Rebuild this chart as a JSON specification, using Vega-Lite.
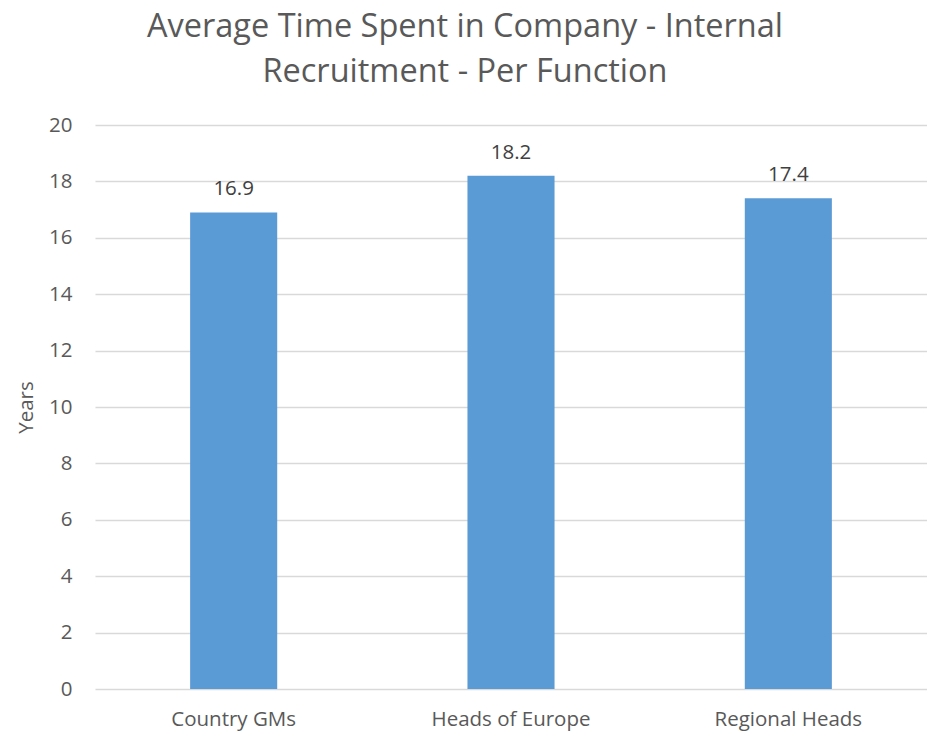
{
  "$schema": "https://vega.github.io/schema/vega-lite/v6.json",
  "width": 832,
  "height": 564,
  "autosize": {"type": "none"},
  "padding": {"left": 95, "top": 125, "right": 0, "bottom": 44},
  "background": "white",
  "title": {
    "text": ["Average Time Spent in Company - Internal", "Recruitment - Per Function"],
    "anchor": "middle",
    "dx": -46,
    "offset": 27,
    "font": "Open Sans",
    "fontSize": 32.5,
    "fontWeight": "normal",
    "color": "#595959",
    "lineHeight": 45
  },
  "data": {
    "values": [
      {"function": "Country GMs", "years": 16.9},
      {"function": "Heads of Europe", "years": 18.2},
      {"function": "Regional Heads", "years": 17.4}
    ]
  },
  "config": {
    "view": {"stroke": null},
    "font": "Open Sans"
  },
  "encoding": {
    "x": {
      "field": "function",
      "type": "nominal",
      "sort": null,
      "scale": {"paddingInner": 0.686, "paddingOuter": 0.343},
      "axis": {
        "title": null,
        "labelAngle": 0,
        "labelFont": "Open Sans",
        "labelFontSize": 20.5,
        "labelColor": "#595959",
        "labelPadding": 20,
        "ticks": false,
        "domain": false
      }
    },
    "y": {
      "field": "years",
      "type": "quantitative",
      "scale": {"domain": [0, 20]},
      "axis": {
        "title": "Years",
        "titleFont": "Open Sans",
        "titleFontSize": 20.5,
        "titleFontWeight": "normal",
        "titleColor": "#595959",
        "titlePadding": 12,
        "values": [0, 2, 4, 6, 8, 10, 12, 14, 16, 18, 20],
        "labelFont": "Open Sans",
        "labelFontSize": 20.5,
        "labelColor": "#595959",
        "labelPadding": 23,
        "ticks": false,
        "domain": false,
        "grid": true,
        "gridColor": "#D9D9D9",
        "gridWidth": 1.5
      }
    }
  },
  "layer": [
    {"mark": {"type": "bar", "color": "#5B9BD5"}},
    {
      "mark": {
        "type": "text",
        "baseline": "alphabetic",
        "dy": -17,
        "font": "Open Sans",
        "fontSize": 20.5,
        "color": "#404040"
      },
      "encoding": {"text": {"field": "years", "type": "quantitative", "format": ".1f"}}
    }
  ]
}
